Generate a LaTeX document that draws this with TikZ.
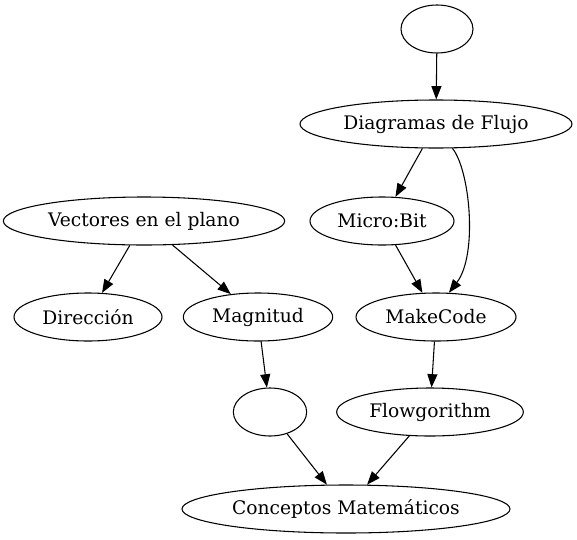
\documentclass[tikz,border=0pt]{standalone}
\usepackage{fontspec}
\setmainfont{DejaVu Serif}
\usetikzlibrary{shapes.geometric,arrows.meta}

\begin{document}
\begin{tikzpicture}[x=0.75pt,y=-0.75pt,line width=0.8pt,>={Triangle[length=10pt,width=7.5pt]}]
    \tikzstyle{every node}=[draw,ellipse,inner sep=0pt,minimum height=36pt,font=\fontsize{14}{16}\selectfont]
    \useasboundingbox (0,0) rectangle (577,539);
    \node[minimum width=54pt] (top) at (437,29) {};
    \node[minimum width=204pt] (flujo) at (436,124) {Diagramas de Flujo};
    \node[minimum width=211pt] (vect) at (144,221) {Vectores en el plano};
    \node[minimum width=108pt] (micro) at (382,221) {Micro:Bit};
    \node[minimum width=111pt] (dir) at (88,317) {Dirección};
    \node[minimum width=112pt] (mag) at (258,317) {Magnitud};
    \node[minimum width=120pt] (make) at (436,317) {MakeCode};
    \node[minimum width=55pt] (emp) at (270,412) {};
    \node[minimum width=140pt] (flow) at (430,412) {Flowgorithm};
    \node[minimum width=246pt] (conc) at (346,509) {Conceptos Matemáticos};
    \draw[->] (top) -- (flujo);
    \draw[->] (flujo) -- (micro);
    \draw[->] (flujo.-56) .. controls (470,170) and (478,255) .. (make.62);
    \draw[->] (vect) -- (dir);
    \draw[->] (vect) -- (mag);
    \draw[->] (micro) -- (make);
    \draw[->] (mag) -- (emp);
    \draw[->] (make) -- (flow);
    \draw[->] (emp) -- (conc);
    \draw[->] (flow) -- (conc);
\end{tikzpicture}
\end{document}
